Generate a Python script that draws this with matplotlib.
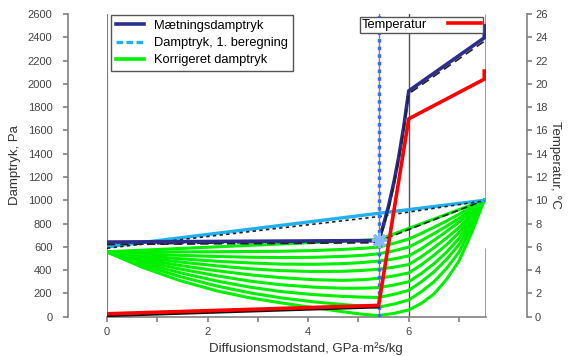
import numpy as np
import matplotlib.pyplot as plt
from matplotlib.lines import Line2D

plt.rcParams['font.family'] = ['Liberation Sans', 'DejaVu Sans']

# --- data ---
# layer boundaries (diffusion resistance, GPa m2 s/kg)
x_bounds = [0.0, 5.4, 6.0]

# saturation vapour pressure (Pa)
sat_x = [0.0, 5.4, 5.5, 5.6, 5.7, 5.8, 5.9, 6.0, 7.5, 7.5]
sat_y = [641, 654, 792, 954, 1146, 1370, 1632, 1940, 2395, 2500]

# dashed companion of the saturation line
sat2_x = [0.0, 5.4, 5.5, 5.6, 5.7, 5.8, 5.9, 6.0, 7.5]
sat2_y = [620, 635, 770, 930, 1120, 1345, 1605, 1915, 2365]

# vapour pressure, 1st calculation
vp1_x = [0.0, 7.5]
vp1_y = [600, 1000]

# dotted companion of the first calculation
vp1b_x = [0.0, 5.4, 7.5]
vp1b_y = [588, 860, 995]

# corrected vapour pressure: top line through the condensation point
top_x = [0.0, 5.4, 7.5]
top_y = [558, 662, 1000]

# dashed line along the top corrected line
top2_x = [0.0, 5.4, 7.5]
top2_y = [622, 648, 1000]

# family of corrected vapour pressure curves
kor_x = [0, 0.7, 1.45, 2.2, 2.84, 3.44, 4.1, 4.7, 5.1, 5.4,
         5.7, 6.0, 6.25, 6.5, 6.75, 7.0, 7.25, 7.5]
kor_1 = [555, 556, 557, 558, 560, 562, 568, 578, 588, 598,
         630, 667, 716, 768, 822, 880, 940, 1000]
kor_2 = [555, 540, 527, 517, 511, 508, 510, 518, 528, 540,
         566, 598, 654, 714, 777, 845, 920, 1000]
kor_3 = [555, 525, 498, 476, 462, 452, 450, 456, 466, 478,
         496, 522, 584, 656, 732, 812, 903, 1000]
kor_4 = [555, 510, 470, 436, 412, 396, 388, 390, 398, 408,
         425, 448, 515, 593, 676, 766, 878, 1000]
kor_5 = [555, 495, 440, 394, 360, 336, 318, 312, 318, 330,
         350, 376, 446, 528, 618, 722, 858, 1000]
kor_6 = [555, 480, 410, 350, 306, 275, 254, 244, 245, 250,
         272, 300, 372, 455, 555, 672, 830, 1000]
kor_7 = [555, 462, 378, 305, 254, 217, 190, 174, 168, 165,
         192, 226, 300, 385, 492, 620, 800, 1000]
kor_8 = [555, 445, 345, 262, 205, 163, 128, 104, 90, 82,
         108, 144, 215, 300, 415, 555, 770, 1000]
kor_9 = [555, 425, 310, 220, 162, 120, 78, 42, 20, 10,
         28, 58, 115, 195, 320, 480, 720, 1000]
kor_curves = [kor_1, kor_2, kor_3, kor_4, kor_5, kor_6, kor_7, kor_8, kor_9]

# condensation point
cond_x = [5.4]
cond_y = [658]

# temperature (deg C, right axis)
temp_x = [0.0, 5.4, 6.0, 7.5, 7.5]
temp_y = [0.25, 0.97, 17.0, 20.4, 21.1]
temp2_x = [0.0, 5.4]
temp2_y = [0.05, 0.8]

NAVY = '#2B2E8C'
CYAN = '#1FB1EE'
GREEN = '#00F000'
RED = '#FF0000'
GREY = '#808080'

fig = plt.figure(figsize=(5.72, 3.56), dpi=100)
ax = fig.add_axes([107 / 572, 1 - 316.7 / 356, (486 - 107) / 572, (316.7 - 14) / 356])
ax.set_xlim(0, 7.535)
ax.set_ylim(0, 2600)

# layer boundaries
ax.axvline(x_bounds[0], color=GREY, lw=1.6, zorder=1)
ax.axvline(x_bounds[1], color=GREY, lw=1.0, zorder=1)
ax.axvline(x_bounds[2], color='#555555', lw=1.0, zorder=1)
ax.vlines([7.535, 7.535], [0, 1000], [590, 2600], color=GREY, lw=1.8, zorder=1)

for c in kor_curves:
    ax.plot(kor_x, c, color=GREEN, lw=2.2, zorder=3)
ax.plot(top_x, top_y, color=GREEN, lw=2.2, zorder=3)
ax.plot(top2_x, top2_y, color='#222222', lw=1.2, ls=(0, (4, 2)), zorder=4)

ax.plot(vp1_x, vp1_y, color=CYAN, lw=2.4, zorder=4)
ax.plot(vp1b_x, vp1b_y, color='#222222', lw=1.2, ls=(0, (2, 2)), zorder=4)

ax.plot(sat_x, sat_y, color=NAVY, lw=2.6, zorder=5)
ax.plot(sat2_x, sat2_y, color='#222222', lw=1.2, ls=(0, (5, 3)), zorder=6)

ax.plot([5.4, 5.4], [0, 2600], color='#3B6BFF', lw=2.5, ls=(0, (1, 1.2)), zorder=6)
ax.plot(cond_x, cond_y, marker=(8, 2, 0), ms=11, mew=2.2, color='#8AB8FF',
        ls='none', zorder=7)

ax.spines['top'].set_visible(False)
ax.spines['right'].set_visible(False)
ax.spines['left'].set_position(('outward', 28))
for s in ('left', 'bottom'):
    ax.spines[s].set_color(GREY)
    ax.spines[s].set_linewidth(1.2)
ax.set_xticks([0, 2, 4, 6])
ax.set_xticks([1, 3, 5, 7], minor=True)
ax.set_yticks(np.arange(0, 2601, 200))
ax.tick_params(which='both', colors=GREY, labelcolor='#444444', labelsize=8,
               length=3.8, width=1.2)
ax.tick_params(axis='y', pad=7.5)
ax.set_xlabel('Diffusionsmodstand, GPa·m²s/kg', fontsize=9.5, color='#333333')
ax.xaxis.set_label_coords((306 - 107) / (486 - 107), -0.085)
ax.set_ylabel('Damptryk, Pa', fontsize=9.5, color='#333333', labelpad=5)

ax2 = ax.twinx()
ax2.set_ylim(0, 26)
ax2.plot(temp2_x, temp2_y, color='#111111', lw=1.5, zorder=2)
ax2.plot(temp_x, temp_y, color=RED, lw=2.6, zorder=3)
for s in ('top', 'left', 'bottom'):
    ax2.spines[s].set_visible(False)
ax2.spines['right'].set_position(('outward', 29.5))
ax2.spines['right'].set_color(GREY)
ax2.spines['right'].set_linewidth(1.2)
ax2.set_yticks(np.arange(0, 27, 2))
ax2.tick_params(colors=GREY, labelcolor='#444444', labelsize=8, length=3.8,
                width=1.2, pad=2)
ax2.set_ylabel('Temperatur, °C', fontsize=9.5, color='#333333', rotation=270,
               labelpad=10)

h1 = [Line2D([], [], color=NAVY, lw=2.6),
      Line2D([], [], color=CYAN, lw=2.4, ls=(0, (2, 1))),
      Line2D([], [], color=GREEN, lw=2.6)]
leg1 = ax2.legend(h1, ['Mætningsdamptryk', 'Damptryk, 1. beregning', 'Korrigeret damptryk'],
                  loc='upper left', bbox_to_anchor=(111 / 572, 1 - 15 / 356),
                  bbox_transform=fig.transFigure, fontsize=9.3, frameon=True,
                  fancybox=False, edgecolor='#555555', framealpha=1,
                  handlelength=2.2, borderpad=0.35, labelspacing=0.42,
                  handletextpad=0.8, borderaxespad=0)
leg1.get_frame().set_linewidth(1.0)
ax2.add_artist(leg1)
h2 = [Line2D([], [], color=RED, lw=2.6)]
leg2 = ax2.legend(h2, ['Temperatur'], loc='upper left',
                  bbox_to_anchor=(360 / 572, 1 - 17 / 356),
                  bbox_transform=fig.transFigure, fontsize=9.3, frameon=True,
                  fancybox=False, edgecolor='#555555', framealpha=1,
                  markerfirst=False, handlelength=2.6, borderpad=0.15,
                  handletextpad=1.6, borderaxespad=0)
leg2.get_frame().set_linewidth(1.0)

fig.savefig('out.png', dpi=100)
